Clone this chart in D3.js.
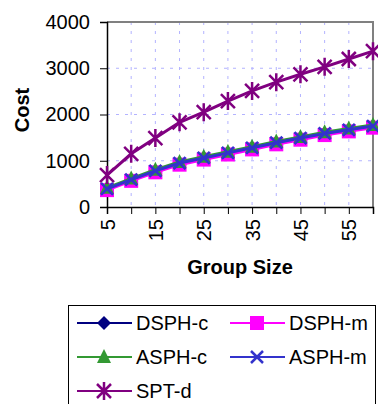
<!DOCTYPE html>
<html>
<head>
<meta charset="utf-8">
<script src="https://cdn.jsdelivr.net/npm/d3@7"></script>
<style>
  body { margin: 0; background: #fff; }
  svg { display: block; font-family: "Liberation Sans", Arial, sans-serif; }
</style>
</head>
<body>
<svg id="chart" width="378" height="404"></svg>
<script>
"use strict";

var groupSizes = [5, 10, 15, 20, 25, 30, 35, 40, 45, 50, 55, 60];
var dsphC = [390, 590, 780, 950, 1060, 1170, 1280, 1390, 1490, 1590, 1670, 1750];
var dsphM = [365, 565, 750, 915, 1025, 1135, 1245, 1355, 1455, 1555, 1635, 1715];
var asphC = [415, 615, 805, 975, 1085, 1195, 1305, 1415, 1515, 1615, 1695, 1775];
var asphM = [390, 590, 780, 950, 1060, 1170, 1280, 1390, 1490, 1590, 1670, 1750];
var sptD = [690, 1150, 1490, 1830, 2050, 2290, 2510, 2700, 2870, 3030, 3200, 3370];
var yTicks = [0, 1000, 2000, 3000, 4000];
var xLabels = [5, 15, 25, 35, 45, 55];

var series = [
    {nom: "DSPH-c", valeurs: dsphC, couleur: "#000080", marqueur: "diamant"},
    {nom: "DSPH-m", valeurs: dsphM, couleur: "#ff00ff", marqueur: "carre"},
    {nom: "ASPH-c", valeurs: asphC, couleur: "#339933", marqueur: "triangle"},
    {nom: "ASPH-m", valeurs: asphM, couleur: "#3333cc", marqueur: "croix"},
    {nom: "SPT-d", valeurs: sptD, couleur: "#800080", marqueur: "etoile"}
];

var gauche = 107, droite = 373, haut = 22, bas = 207;
var svg = d3.select("#chart");

var x = d3.scalePoint().domain(groupSizes).range([gauche, droite]).padding(0);
var y = d3.scaleLinear().domain([0, 4000]).range([bas, haut]);

// grille pointillée
svg.append("g").selectAll("line.gv").data(groupSizes.slice(1, -1)).enter().append("line")
    .attr("x1", function(d) { return x(d); }).attr("x2", function(d) { return x(d); })
    .attr("y1", haut).attr("y2", bas)
    .attr("stroke", "#b3b3ff").attr("stroke-width", 1).attr("stroke-dasharray", "3,6");
svg.append("g").selectAll("line.gh").data(yTicks.slice(1, -1)).enter().append("line")
    .attr("x1", gauche).attr("x2", droite)
    .attr("y1", function(d) { return y(d); }).attr("y2", function(d) { return y(d); })
    .attr("stroke", "#b3b3ff").attr("stroke-width", 1).attr("stroke-dasharray", "3,6");

// bordure haut / droite
svg.append("path")
    .attr("d", "M" + gauche + "," + haut + "H" + droite + "V" + bas)
    .attr("fill", "none").attr("stroke", "#808080").attr("stroke-width", 2);

// axe y
var axeY = svg.append("g").attr("transform", "translate(" + gauche + ",0)")
    .call(d3.axisLeft(y).tickValues(yTicks).tickFormat(d3.format("d")).tickSize(7).tickPadding(10));
axeY.selectAll("text").attr("font-size", 20).attr("fill", "#000").attr("font-family", "Liberation Sans, Arial");
axeY.select(".domain").attr("stroke", "#000").attr("stroke-width", 1.5);

// axe x
var axeX = svg.append("g").attr("transform", "translate(0," + bas + ")")
    .call(d3.axisBottom(x).tickSize(7).tickFormat(function(d) { return xLabels.indexOf(d) >= 0 ? d : ""; }));
axeX.select(".domain").attr("stroke", "#000").attr("stroke-width", 1.5);
axeX.selectAll("text")
    .attr("font-size", 20).attr("fill", "#000").attr("font-family", "Liberation Sans, Arial")
    .attr("transform", "rotate(-90)")
    .attr("text-anchor", "end").attr("x", -12).attr("y", 0).attr("dy", "0.35em");

// titres
svg.append("text").attr("transform", "translate(29,110) rotate(-90)")
    .attr("text-anchor", "middle").attr("font-size", 20).attr("font-weight", "bold").text("Cost");
svg.append("text").attr("x", 240).attr("y", 274)
    .attr("text-anchor", "middle").attr("font-size", 20).attr("font-weight", "bold").text("Group Size");

function dessinerMarqueur(g, type, couleur, cx, cy) {
    if (type == "diamant") {
        g.append("path").attr("d", "M" + cx + "," + (cy - 7) + "L" + (cx + 7) + "," + cy + "L" + cx + "," + (cy + 7) + "L" + (cx - 7) + "," + cy + "Z")
            .attr("fill", couleur);
    } else if (type == "carre") {
        g.append("rect").attr("x", cx - 7).attr("y", cy - 7).attr("width", 14).attr("height", 14).attr("fill", couleur);
    } else if (type == "triangle") {
        g.append("path").attr("d", "M" + cx + "," + (cy - 8) + "L" + (cx + 7) + "," + (cy + 6) + "L" + (cx - 7) + "," + (cy + 6) + "Z")
            .attr("fill", couleur);
    } else if (type == "croix") {
        g.append("path").attr("d", "M" + (cx - 6) + "," + (cy - 6) + "L" + (cx + 6) + "," + (cy + 6) + "M" + (cx + 6) + "," + (cy - 6) + "L" + (cx - 6) + "," + (cy + 6))
            .attr("stroke", couleur).attr("stroke-width", 2.5);
    } else {
        g.append("path").attr("d", "M" + (cx - 7) + "," + (cy - 7) + "L" + (cx + 7) + "," + (cy + 7) + "M" + (cx + 7) + "," + (cy - 7) + "L" + (cx - 7) + "," + (cy + 7) + "M" + cx + "," + (cy - 9) + "V" + (cy + 9))
            .attr("stroke", couleur).attr("stroke-width", 2.5);
    }
}

var ligne = d3.line()
    .x(function(d, i) { return x(groupSizes[i]); })
    .y(function(d) { return y(d); });

series.forEach(function(s) {
    var g = svg.append("g");
    g.append("path").attr("d", ligne(s.valeurs))
        .attr("fill", "none").attr("stroke", s.couleur).attr("stroke-width", 3);
    s.valeurs.forEach(function(v, i) {
        dessinerMarqueur(g, s.marqueur, s.couleur, x(groupSizes[i]), y(v));
    });
});

// légende
svg.append("rect").attr("x", 68.5).attr("y", 305.5).attr("width", 307).attr("height", 110)
    .attr("fill", "none").attr("stroke", "#000").attr("stroke-width", 1);
series.forEach(function(s, i) {
    var lx = i % 2 == 0 ? 77 : 230;
    var ly = 323 + Math.floor(i / 2) * 34;
    var g = svg.append("g");
    g.append("line").attr("x1", lx).attr("x2", lx + 55).attr("y1", ly).attr("y2", ly)
        .attr("stroke", s.couleur).attr("stroke-width", 2);
    dessinerMarqueur(g, s.marqueur, s.couleur, lx + 27, ly);
    g.append("text").attr("x", lx + 59).attr("y", ly).attr("dy", "0.36em")
        .attr("font-size", 20).text(s.nom);
});
</script>
</body>
</html>
